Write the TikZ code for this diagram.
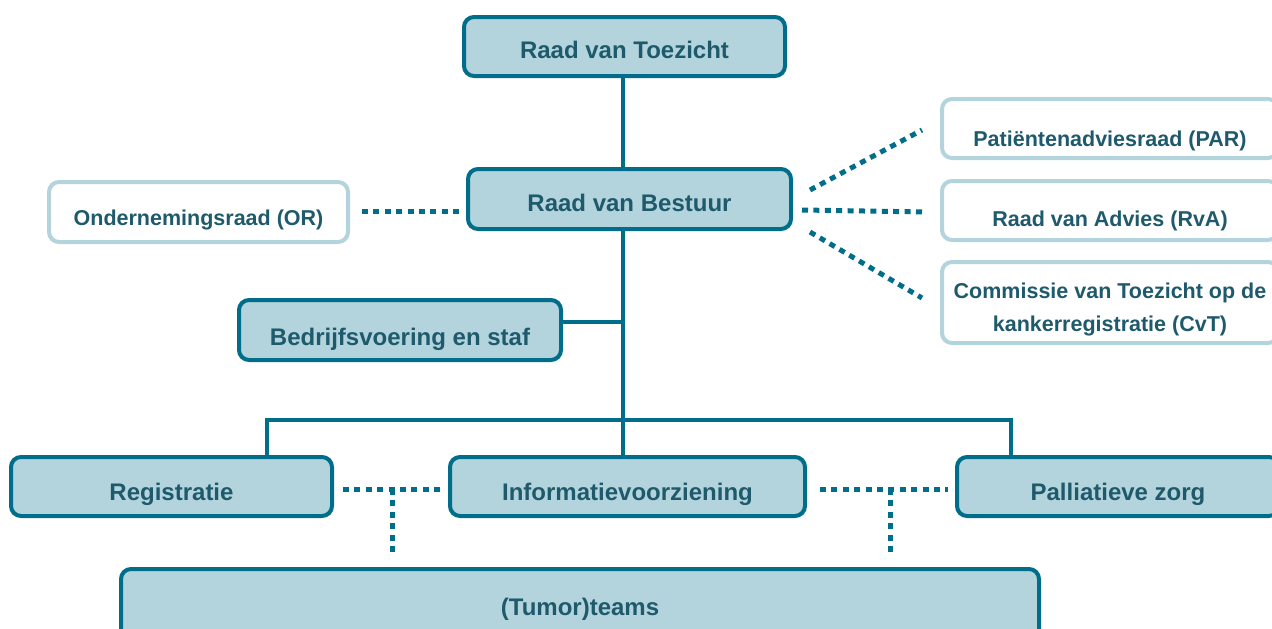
\documentclass[tikz,border=0pt]{standalone}
\usepackage{fontspec}
\setmainfont{Liberation Sans}
\usetikzlibrary{calc}
\definecolor{dark}{RGB}{0,110,138}
\definecolor{lightb}{RGB}{179,212,220}
\definecolor{txt}{RGB}{30,90,108}
\begin{document}
\begin{tikzpicture}[x=1pt,y=-1pt,
  lbl/.style={font=\bfseries\fontsize{21.5}{33}\selectfont, text=txt, align=center, inner sep=0pt},
  mainlbl/.style={font=\bfseries\fontsize{24}{33}\selectfont, text=txt, align=center, inner sep=0pt},
  box/.style={mainlbl, draw=dark, line width=4pt, fill=lightb, rounded corners=10pt, text depth=0pt},
  side/.style={lbl, draw=lightb, line width=4pt, fill=white, rounded corners=10pt, text depth=0pt},
  conn/.style={draw=dark, line width=4pt},
  dots/.style={draw=dark, line width=5pt, dash pattern=on 6pt off 5.4pt}]
\useasboundingbox (0,0) rectangle (1272,629);
\clip (0,0) rectangle (1272,629);

% main boxes
\node[box, minimum width=321pt, minimum height=59pt, text height=23pt] (toez) at (624.5,46.5) {Raad van Toezicht};
\node[box, minimum width=323pt, minimum height=60pt, text height=24pt] (bestuur) at (629.5,199) {Raad van Bestuur};
\node[box, minimum width=322pt, minimum height=60pt, text height=30pt] (bedr) at (400,330) {Bedrijfsvoering en staf};
\node[box, minimum width=321pt, minimum height=59pt, text height=27pt] (reg) at (171.5,486.5) {Registratie};
\node[box, minimum width=355pt, minimum height=59pt, text height=27pt] (info) at (627.5,486.5) {Informatievoorziening};
\node[box, minimum width=322pt, minimum height=59pt, text height=27pt] (pall) at (1118,486.5) {Palliatieve zorg};
\node[box, minimum width=918pt, minimum height=76pt, text height=16pt] (tumor) at (580,607) {(Tumor)teams};

% side boxes
\node[side, minimum width=299pt, minimum height=60pt, text height=26pt] (or) at (198.5,212) {Ondernemingsraad (OR)};
\node[side, minimum width=336pt, minimum height=59pt, text height=35pt] (par) at (1110,128.5) {Patiëntenadviesraad (PAR)};
\node[side, minimum width=336pt, minimum height=59pt, text height=31pt] (rva) at (1110,210.5) {Raad van Advies (RvA)};
\node[side, minimum width=336pt, minimum height=81pt] (cvt) at (1110,302.5) {};
\node[lbl] (cvttext) at (1110,309) {Commissie van Toezicht op de\\kankerregistratie (CvT)};

% solid connectors
\coordinate (jb) at (623,322);
\coordinate (hl) at (267,420);
\coordinate (hr) at (1011,420);
\draw[conn] (toez.south -| jb) -- (bestuur.north -| jb);
\draw[conn] (bestuur.south -| jb) -- (info.north -| jb);
\draw[conn] (bedr.east |- jb) -- (jb);
\draw[conn] (reg.north -| hl) -- (hl) -- (hr) -- (pall.north -| hr);

% dotted connectors
\draw[dots] ($(or.east)+(12,-1)$) -- ($(bestuur.west)+(-2,12)$);
\draw[dots] ($(bestuur.east)+(17,-9)$) -- ($(par.west)+(-18,1.5)$);
\draw[dots] ($(bestuur.east)+(9,11)$) -- ($(rva.west)+(-14,1.5)$);
\draw[dots] ($(bestuur.east)+(17,33)$) -- ($(cvt.west)+(-18,-4.5)$);

\coordinate (dl) at (392,489);
\coordinate (dr) at (890,489);
\draw[dots] ($(reg.east |- dl)+(9,0)$) -- ($(info.west |- dl)+(-8,0)$);
\draw[dots] (dl) -- ($(dl)+(0,63)$);
\draw[dots] ($(info.east |- dr)+(13,0)$) -- ($(pall.west |- dr)+(-7,0)$);
\draw[dots] (dr) -- ($(dr)+(0,63)$);
\end{tikzpicture}
\end{document}
